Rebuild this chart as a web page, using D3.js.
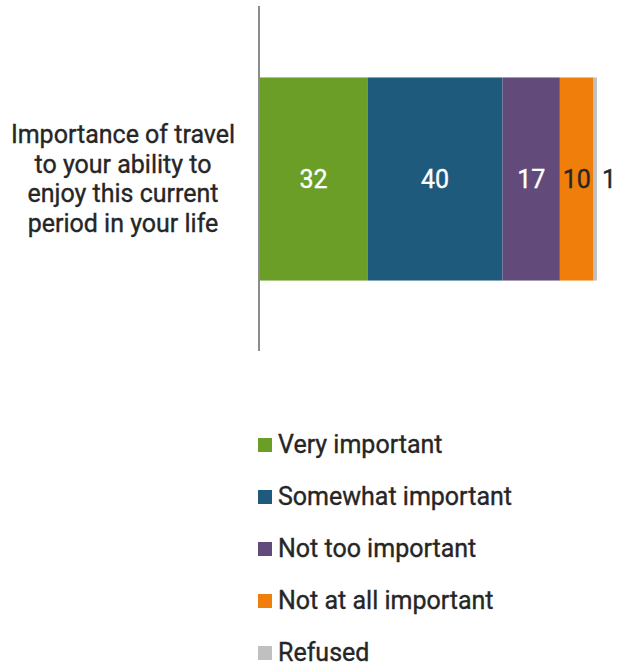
<!DOCTYPE html>
<html>
<head>
<meta charset="utf-8">
<script src="https://cdn.jsdelivr.net/npm/d3@7"></script>
<style>
  html, body { margin: 0; padding: 0; background: #fff; }
  svg { display: block; font-family: "Roboto", "Liberation Sans", sans-serif; }
</style>
</head>
<body>
<svg id="chart" width="621" height="664"></svg>
<script>
// Survey item and response shares (percent)
const questionLines = ["Importance of travel", "to your ability to", "enjoy this current", "period in your life"];
const categories = ["Very important", "Somewhat important", "Not too important", "Not at all important", "Refused"];
const values = [32, 40, 17, 10, 1];
const colors = ["#6a9e27", "#1e5a7c", "#624a7a", "#ef7f0a", "#c0c0c0"];
const labelColors = ["#ffffff", "#ffffff", "#ffffff", "#262626", "#262626"];

const svg = d3.select("#chart");
const textColor = "#262626";

const x = d3.scaleLinear().domain([0, 100]).range([259.5, 597]);
const y = d3.scaleBand().domain(["q"]).range([8, 350]).paddingInner(0).paddingOuter(0.342);

// Stack the segments
let acc = 0;
const segs = values.map((v, i) => {
  const s = { key: categories[i], v, x0: acc, x1: acc + v, color: colors[i], lc: labelColors[i] };
  acc += v;
  return s;
});

const barY = y("q"), barH = y.bandwidth();

svg.append("g").selectAll("rect").data(segs).join("rect")
  .attr("x", d => x(d.x0))
  .attr("y", barY)
  .attr("width", d => x(d.x1) - x(d.x0))
  .attr("height", barH)
  .attr("fill", d => d.color);

// Vertical baseline
svg.append("line")
  .attr("x1", 259).attr("x2", 259)
  .attr("y1", 6).attr("y2", 351)
  .attr("stroke", "#8c8c8c").attr("stroke-width", 2);

// Value labels
svg.append("g").selectAll("text").data(segs).join("text")
  .attr("x", d => d.v < 3 ? x(d.x1) + 12 : (x(d.x0) + x(d.x1)) / 2)
  .attr("y", barY + barH / 2 + 9)
  .attr("text-anchor", "middle")
  .attr("font-size", 25)
  .attr("fill", d => d.v < 3 ? textColor : d.lc)
  .attr("stroke", d => d.v < 3 ? textColor : d.lc)
  .attr("stroke-width", 0.35)
  .text(d => d.v);

// Category label
svg.append("text")
  .attr("text-anchor", "middle")
  .attr("font-size", 25)
  .attr("fill", textColor)
  .attr("stroke", textColor)
  .attr("stroke-width", 0.35)
  .selectAll("tspan").data(questionLines).join("tspan")
  .attr("x", 123)
  .attr("y", (d, i) => 143 + i * 29.5)
  .text(d => d);

// Legend
const legend = svg.append("g").selectAll("g").data(categories).join("g")
  .attr("transform", (d, i) => `translate(258, ${438 + i * 52})`);
legend.append("rect").attr("width", 14).attr("height", 14).attr("fill", (d, i) => colors[i]);
legend.append("text")
  .attr("x", 20).attr("y", 15)
  .attr("font-size", 25)
  .attr("fill", textColor)
  .attr("stroke", textColor)
  .attr("stroke-width", 0.35)
  .text(d => d);
</script>
</body>
</html>
